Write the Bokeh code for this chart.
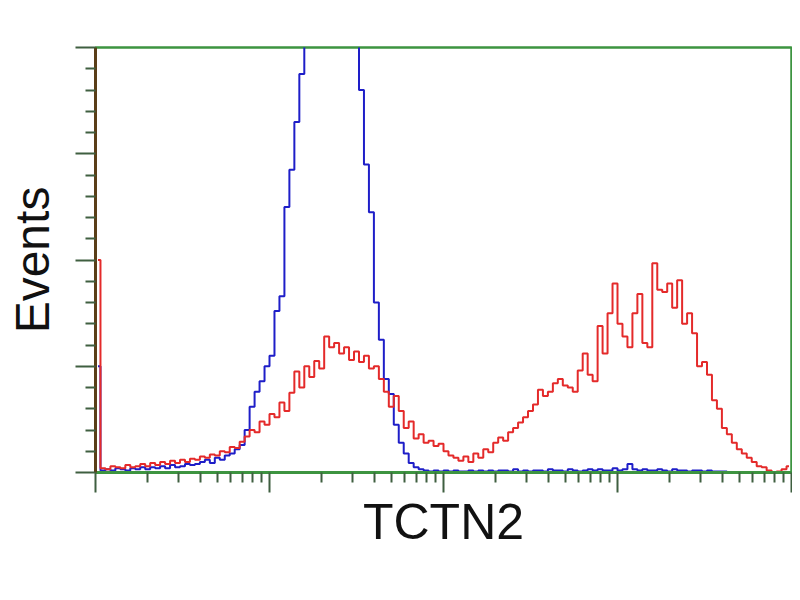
import numpy as np
from bokeh.plotting import figure
from bokeh.models import FixedTicker, Range1d, CustomJSTickFormatter
from bokeh.embed import file_html
from bokeh.resources import INLINE

# ---- data (counts per log-spaced channel, 140 channels over 4 decades) ----
n_bins = 140
decades = 4.0

red_counts = [
    200, 4, 3, 6, 5, 4, 7, 5, 6, 8,
    6, 9, 7, 10, 8, 11, 9, 12, 10, 13,
    12, 15, 14, 17, 16, 20, 19, 24, 23, 29,
    34, 40, 38, 48, 45, 55, 52, 66, 58, 75,
    95, 80, 100, 90, 105, 98, 128, 118, 122, 112,
    118, 106, 114, 104, 110, 98, 100, 88, 76, 62,
    72, 58, 42, 48, 32, 36, 28, 30, 25, 27,
    20, 16, 14, 11, 15, 10, 18, 14, 22, 19,
    28, 33, 30, 38, 42, 47, 52, 58, 64, 78,
    72, 76, 84, 88, 82, 80, 76, 96, 112, 92,
    86, 138, 112, 150, 178, 140, 128, 118, 150, 168,
    122, 118, 197, 172, 170, 178, 155, 181, 140, 150,
    131, 100, 104, 92, 68, 60, 42, 36, 28, 22,
    18, 14, 10, 6, 5, 2, 0, 1, 3, 6,
]

blue_counts = [
    100, 2, 3, 2, 4, 3, 2, 4, 3, 5,
    3, 5, 4, 6, 4, 7, 5, 6, 8, 7,
    8, 10, 12, 9, 14, 12, 16, 18, 22, 26,
    40, 62, 76, 86, 100, 110, 152, 166, 250, 285,
    330, 375, 430, 520, 600, 650, 680, 660, 620, 560,
    500, 450, 405, 360, 290, 245, 160, 125, 88, 74,
    45, 28, 18, 9, 5, 3, 2, 1, 2, 1,
    2, 1, 2, 1, 1, 2, 1, 2, 1, 2,
    1, 2, 2, 1, 3, 1, 2, 1, 2, 2,
    1, 3, 2, 2, 1, 3, 2, 1, 2, 3,
    2, 3, 2, 2, 4, 2, 3, 8, 3, 2,
    3, 2, 2, 3, 2, 1, 3, 2, 2, 1,
    2, 2, 1, 2, 1, 1, 1, 0, 0, 0,
    0, 0, 0, 0, 0, 0, 0, 0, 0, 0,
]

x_major = [1, 10, 100, 1000, 10000]
y_major = [0, 100, 200, 300, 400]

x_label = "TCTN2"
y_label = "Events"

# channel centres on the log axis
centers = [10 ** ((i + 0.5) * decades / n_bins) for i in range(n_bins)]

GREEN = "#3d9440"
TICK = "#3f5f40"

p = figure(width=792, height=585, x_axis_type="log",
           x_range=Range1d(1, 10000), y_range=Range1d(0, 400),
           output_backend="svg", toolbar_location=None,
           min_border_left=95, min_border_right=1,
           min_border_top=47, min_border_bottom=113)

p.background_fill_color = "white"
p.border_fill_color = "white"
p.xgrid.visible = False
p.ygrid.visible = False
p.outline_line_color = GREEN
p.outline_line_width = 2.5

p.step(centers, blue_counts, mode="center", line_color="#1e1ec8", line_width=2)
p.step(centers, red_counts, mode="center", line_color="#e42a2a", line_width=2)

minor_x = [m * 10 ** d for d in range(4) for m in range(2, 10)]
p.xaxis.ticker = FixedTicker(ticks=x_major, minor_ticks=minor_x)
minor_y = [v for v in range(0, 401, 20) if v % 100 != 0]
p.yaxis.ticker = FixedTicker(ticks=y_major, minor_ticks=minor_y)

blank = CustomJSTickFormatter(code="return '';")
for ax in (p.xaxis[0], p.yaxis[0]):
    ax.formatter = blank
    ax.major_label_text_font_size = "8px"
    ax.major_label_standoff = 0
    ax.major_tick_out = 20
    ax.major_tick_in = 0
    ax.minor_tick_out = 10
    ax.minor_tick_in = 0
    ax.major_tick_line_color = TICK
    ax.minor_tick_line_color = TICK
    ax.major_tick_line_width = 2
    ax.minor_tick_line_width = 2
    ax.axis_label_text_font = "Liberation Sans"
    ax.axis_label_text_font_style = "normal"
    ax.axis_label_text_color = "#111111"

p.xaxis.axis_label = x_label
p.xaxis.axis_label_text_font_size = "50px"
p.xaxis.axis_label_standoff = 1
p.xaxis.axis_line_color = GREEN
p.xaxis.axis_line_width = 3

p.yaxis.axis_label = y_label
p.yaxis.axis_label_text_font_size = "48px"
p.yaxis.axis_label_standoff = 17
p.yaxis.axis_line_color = "#5a3e18"
p.yaxis.axis_line_width = 3

open("out.html", "w").write(file_html(p, INLINE))
